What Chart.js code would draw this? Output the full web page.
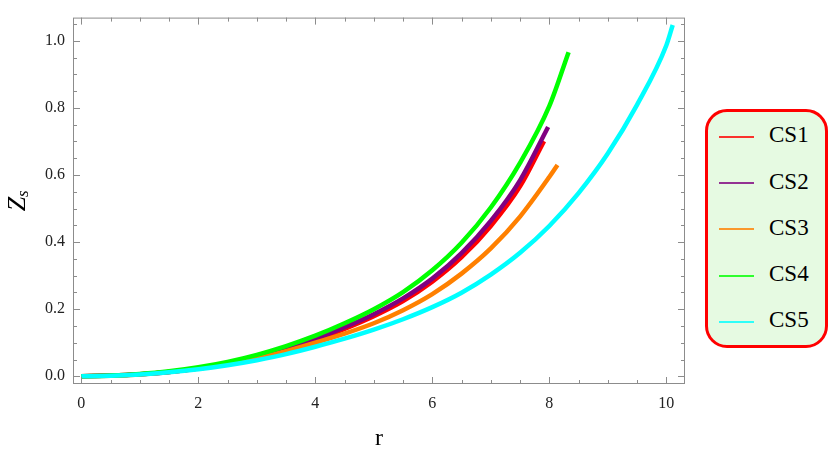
<!DOCTYPE html>
<html lang="en">
<head>
    <meta charset="UTF-8">
    <title>Z_s vs r</title>
    <script src="https://cdn.jsdelivr.net/npm/chart.js"></script>
    <style>
        body {
            margin: 0;
            background: white;
            font-family: 'Liberation Serif', serif;
        }

        #wrap {
            position: relative;
            width: 830px;
            height: 458px;
        }

        /* legend box on the right */
        #legend {
            position: absolute;
            left: 705px;
            top: 109px;
            width: 123px;
            height: 239px;
            box-sizing: border-box;
            border: 3px solid #ff0000;
            border-radius: 22px;
            background: #e6fae2;
        }

        .item {
            position: absolute;
            left: 11px;
            height: 26px;
            line-height: 26px;
            font-size: 23px;
            color: black;
            white-space: nowrap;
        }

        .item .swatch {
            display: inline-block;
            width: 35px;
            height: 0;
            border-top: 2px solid;
            opacity: 0.8;
            vertical-align: middle;
            margin-right: 15px;
        }
    </style>
</head>
<body>
<div id="wrap">
    <canvas id="chart" width="830" height="458"></canvas>
    <div id="legend"></div>
</div>

<script>
    // values (r every 0.5, last point = curve end)
    const cs1R = [0, 0.5, 1, 1.5, 2, 2.5, 3, 3.5, 4, 4.5, 5, 5.5, 6, 6.5, 7, 7.5, 7.91];
    const cs1Z = [0, 0.002, 0.006, 0.013, 0.023, 0.038, 0.056, 0.079, 0.107, 0.141, 0.179, 0.224, 0.282, 0.355, 0.448, 0.566, 0.701];

    const cs2R = [0, 0.5, 1, 1.5, 2, 2.5, 3, 3.5, 4, 4.5, 5, 5.5, 6, 6.5, 7, 7.5, 7.98];
    const cs2Z = [0, 0.002, 0.006, 0.013, 0.024, 0.039, 0.058, 0.082, 0.111, 0.146, 0.185, 0.232, 0.291, 0.367, 0.463, 0.584, 0.743];

    const cs3R = [0, 0.5, 1, 1.5, 2, 2.5, 3, 3.5, 4, 4.5, 5, 5.5, 6, 6.5, 7, 7.5, 8, 8.14];
    const cs3Z = [0, 0.0015, 0.0055, 0.0125, 0.023, 0.036, 0.053, 0.075, 0.100, 0.127, 0.158, 0.197, 0.245, 0.306, 0.381, 0.476, 0.594, 0.630];

    const cs4R = [0, 0.5, 1, 1.5, 2, 2.5, 3, 3.5, 4, 4.5, 5, 5.5, 6, 6.5, 7, 7.5, 8, 8.33];
    const cs4Z = [0, 0.002, 0.007, 0.015, 0.027, 0.043, 0.064, 0.090, 0.121, 0.158, 0.200, 0.251, 0.316, 0.398, 0.503, 0.636, 0.805, 0.966];

    const cs5R = [0, 0.5, 1, 1.5, 2, 2.5, 3, 3.5, 4, 4.5, 5, 5.5, 6, 6.5, 7, 7.5, 8, 8.5, 9, 9.5, 10, 10.11];
    const cs5Z = [0, 0.0015, 0.0055, 0.012, 0.021, 0.033, 0.048, 0.066, 0.088, 0.112, 0.139, 0.170, 0.206, 0.249, 0.303, 0.368, 0.448, 0.546, 0.664, 0.809, 0.986, 1.047];

    const seriesNames = ['CS1', 'CS2', 'CS3', 'CS4', 'CS5'];
    const seriesColors = ['#ff0000', '#800080', '#ff8000', '#00ff00', '#00ffff'];

    const xTicks = [0, 2, 4, 6, 8, 10];
    const yTicks = [0, 0.2, 0.4, 0.6, 0.8, 1.0];

    const allR = [cs1R, cs2R, cs3R, cs4R, cs5R];
    const allZ = [cs1Z, cs2Z, cs3Z, cs4Z, cs5Z];

    const serif = "'Liberation Serif', 'Times New Roman', serif";
    Chart.defaults.font.family = serif;

    const datasets = seriesNames.map((name, i) => ({
        label: name,
        data: allR[i].map((r, j) => ({ x: r, y: allZ[i][j] })),
        borderColor: seriesColors[i],
        borderWidth: 4.5,
        borderCapStyle: 'butt',
        pointRadius: 0,
        cubicInterpolationMode: 'monotone',
        fill: false,
        order: seriesNames.length - i   // CS5 ends up on top
    }));

    // frame with inward ticks on all four sides, plus axis titles
    const framePlugin = {
        id: 'frame',
        afterDraw(chart) {
            const { ctx, chartArea: a, scales: { x, y } } = chart;
            ctx.save();
            ctx.strokeStyle = '#8c8c8c';
            ctx.lineWidth = 1;
            ctx.strokeRect(a.left + 0.5, a.top + 0.5, a.right - a.left - 1, a.bottom - a.top - 1);

            ctx.beginPath();
            for (let v = 0; v <= 10.001; v += 0.5) {
                const px = Math.round(x.getPixelForValue(v)) + 0.5;
                const len = (Math.abs(v % 2) < 0.01) ? 7 : 4;
                ctx.moveTo(px, a.bottom); ctx.lineTo(px, a.bottom - len);
                ctx.moveTo(px, a.top); ctx.lineTo(px, a.top + len);
            }
            for (let k = 0; k <= 21; k++) {
                const v = k * 0.05;
                const py = Math.round(y.getPixelForValue(v)) + 0.5;
                const len = (k % 4 === 0) ? 7 : 4;
                ctx.moveTo(a.left, py); ctx.lineTo(a.left + len, py);
                ctx.moveTo(a.right, py); ctx.lineTo(a.right - len, py);
            }
            ctx.stroke();

            // x title
            ctx.fillStyle = 'black';
            ctx.font = '24px ' + serif;
            ctx.textAlign = 'center';
            ctx.textBaseline = 'middle';
            ctx.fillText('r', (a.left + a.right) / 2, 439);

            // y title Z with subscript s, rotated
            ctx.translate(18, (a.top + a.bottom) / 2);
            ctx.rotate(-Math.PI / 2);
            ctx.textAlign = 'left';
            ctx.font = 'italic 26px ' + serif;
            const wZ = ctx.measureText('Z').width;
            ctx.font = 'italic 17px ' + serif;
            const ws = ctx.measureText('s').width;
            const start = -(wZ + ws) / 2;
            ctx.font = 'italic 26px ' + serif;
            ctx.fillText('Z', start, 0);
            ctx.font = 'italic 17px ' + serif;
            ctx.fillText('s', start + wZ, 6);
            ctx.restore();
        }
    };

    new Chart(document.getElementById('chart'), {
        type: 'line',
        data: { datasets: datasets },
        options: {
            responsive: false,
            animation: false,
            layout: { padding: { left: 0, top: 5, right: 145, bottom: 0 } },
            plugins: {
                legend: { display: false },
                tooltip: { enabled: false }
            },
            scales: {
                x: {
                    type: 'linear',
                    min: -0.142,
                    max: 10.32,
                    afterBuildTicks: s => { s.ticks = xTicks.map(v => ({ value: v })); },
                    afterFit: s => { s.height = 74; },
                    grid: { display: false, drawTicks: false },
                    border: { display: false },
                    ticks: {
                        padding: 10,
                        color: '#222',
                        font: { family: serif, size: 16 },
                        maxRotation: 0
                    }
                },
                y: {
                    type: 'linear',
                    min: -0.023,
                    max: 1.069,
                    afterBuildTicks: s => { s.ticks = yTicks.map(v => ({ value: v })); },
                    afterFit: s => { s.width = 73; },
                    grid: { display: false, drawTicks: false },
                    border: { display: false },
                    ticks: {
                        padding: 8,
                        color: '#222',
                        font: { family: serif, size: 16 },
                        callback: v => v.toFixed(1)
                    }
                }
            }
        },
        plugins: [framePlugin]
    });

    // legend entries
    const rowMid = [26, 72.7, 118.7, 165, 211];
    const legend = document.getElementById('legend');
    seriesNames.forEach((name, i) => {
        const div = document.createElement('div');
        div.className = 'item';
        div.style.top = (rowMid[i] - 13 - 3) + 'px';
        const sw = document.createElement('span');
        sw.className = 'swatch';
        sw.style.borderTopColor = seriesColors[i];
        div.appendChild(sw);
        div.appendChild(document.createTextNode(name));
        legend.appendChild(div);
    });
</script>
</body>
</html>
